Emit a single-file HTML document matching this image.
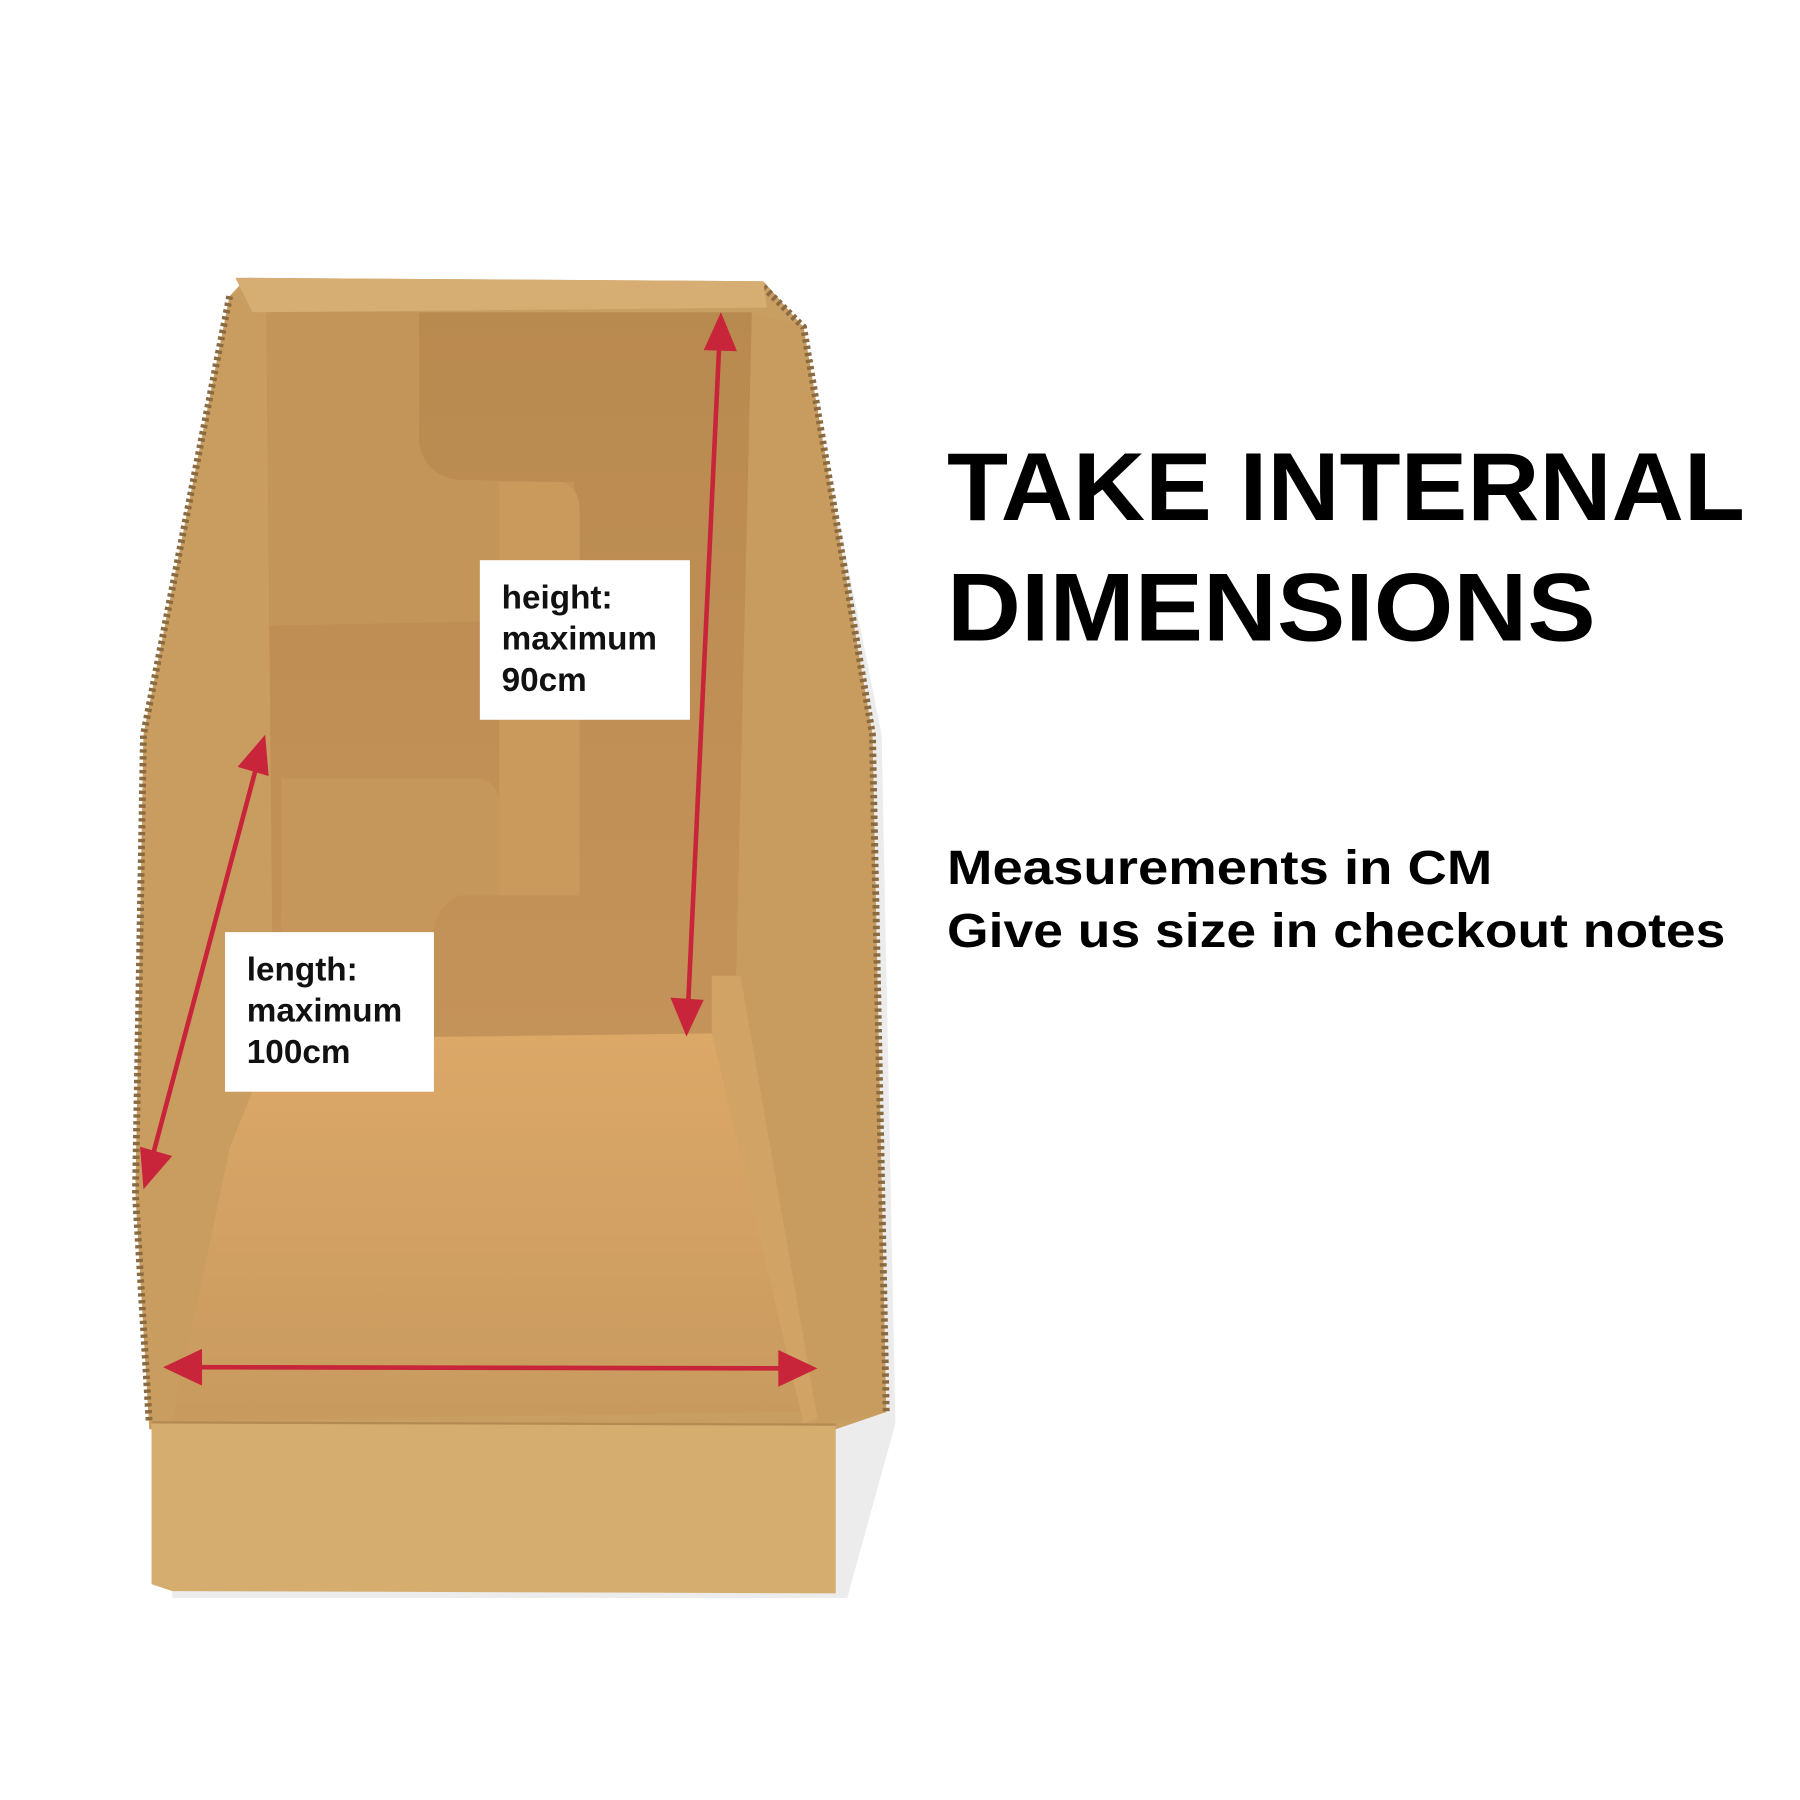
<!DOCTYPE html>
<html><head><style>html,body{margin:0;padding:0;background:#fff;width:1800px;height:1800px;overflow:hidden}</style></head>
<body>
<svg width="1800" height="1800" viewBox="0 0 1568 1568" xmlns="http://www.w3.org/2000/svg">
<defs>
<linearGradient id="floor" x1="0" y1="0" x2="0" y2="1"><stop offset="0" stop-color="#dca868"/><stop offset="1" stop-color="#c89a5e"/></linearGradient>
<linearGradient id="back" x1="0" y1="0" x2="0" y2="1"><stop offset="0" stop-color="#b98a50"/><stop offset="1" stop-color="#c4935a"/></linearGradient>
</defs>
<rect width="1568" height="1568" fill="#fff"/>
<!-- shadow -->
<polygon points="700,300 768,640 780,1240 738,1392 150,1392 150,1240 700,1240" fill="#ececec"/>
<!-- whole outer silhouette -->
<polygon points="215,242 665,245 700,285 760,640 772,1230 728,1245 130,1245 118,1040 125,640 200,258" fill="#c99e62"/>
<!-- back wall -->
<polygon points="228,272 655,272 640,905 238,910" fill="url(#back)"/>
<path d="M232,272 L365,272 L365,385 Q370,415 400,418 L500,420 L500,540 L235,545 Z" fill="#c49559"/>
<path d="M435,420 L490,420 Q505,425 505,445 L505,780 L435,780 Z" fill="#c99a5c"/>
<path d="M245,678 L420,678 Q435,685 435,700 L435,780 L400,780 Q380,790 378,810 L378,910 L245,910 Z" fill="#c6975a"/>
<!-- floor -->
<polygon points="238,905 640,900 700,1230 150,1238 200,1000" fill="url(#floor)"/>
<!-- left inner wall -->
<polygon points="200,258 232,272 238,905 200,1000 150,1238 130,1240 118,1040 125,640" fill="#c99d60"/>
<!-- right inner wall -->
<polygon points="655,272 700,285 760,640 772,1230 712,1240 640,905" fill="#c89b5f"/>
<polygon points="620,850 645,850 712,1235 700,1240 620,900" fill="#d1a466"/>
<!-- corrugated edges -->
<polyline points="200,258 125,640 118,1040 130,1240" fill="none" stroke="#8a6a40" stroke-width="6" stroke-dasharray="3,3"/>
<polyline points="665,250 700,285 760,640 772,1230" fill="none" stroke="#8a6a40" stroke-width="6" stroke-dasharray="3,3"/>
<!-- top edge -->
<polygon points="205,242 665,245 668,268 220,272" fill="#d6ad72"/>
<!-- front panel -->
<polygon points="132,1238 728,1240 728,1388 150,1386 132,1380" fill="#d4ad6f"/>
<line x1="132" y1="1239" x2="728" y2="1241" stroke="#b58a52" stroke-width="2"/>
<!-- arrows -->
<g stroke="#c8243a" stroke-width="4" fill="#c8243a">
<line x1="627" y1="290" x2="599" y2="885"/>
<polygon points="628,272 613,305 642,306" stroke="none"/>
<polygon points="598,903 584,869 613,871" stroke="none"/>
<line x1="226" y1="658" x2="130" y2="1018"/>
<polygon points="231,640 207,668 234,676" stroke="none"/>
<polygon points="125,1036 122,999 150,1007" stroke="none"/>
<line x1="160" y1="1191" x2="692" y2="1192"/>
<polygon points="142,1191 176,1175 176,1207" stroke="none"/>
<polygon points="712,1192 678,1176 678,1208" stroke="none"/>
</g>
<rect x="418" y="488" width="183" height="139" fill="#fff"/>
<rect x="196" y="812" width="182" height="139" fill="#fff"/>
<g font-family="Liberation Sans, sans-serif" font-weight="bold" fill="#111" font-size="29">
<text x="437" y="530">height:</text>
<text x="437" y="566">maximum</text>
<text x="437" y="602">90cm</text>
<text x="215" y="854">length:</text>
<text x="215" y="890">maximum</text>
<text x="215" y="926">100cm</text>
</g>
<g font-family="Liberation Sans, sans-serif" font-weight="bold" fill="#000">
<text x="825" y="453" font-size="84" textLength="695" lengthAdjust="spacingAndGlyphs">TAKE INTERNAL</text>
<text x="825" y="558" font-size="84" textLength="565" lengthAdjust="spacingAndGlyphs">DIMENSIONS</text>
<text x="825" y="770" font-size="42" textLength="475" lengthAdjust="spacingAndGlyphs">Measurements in CM</text>
<text x="825" y="825" font-size="42" textLength="678" lengthAdjust="spacingAndGlyphs">Give us size in checkout notes</text>
</g>
</svg>
</body></html>
